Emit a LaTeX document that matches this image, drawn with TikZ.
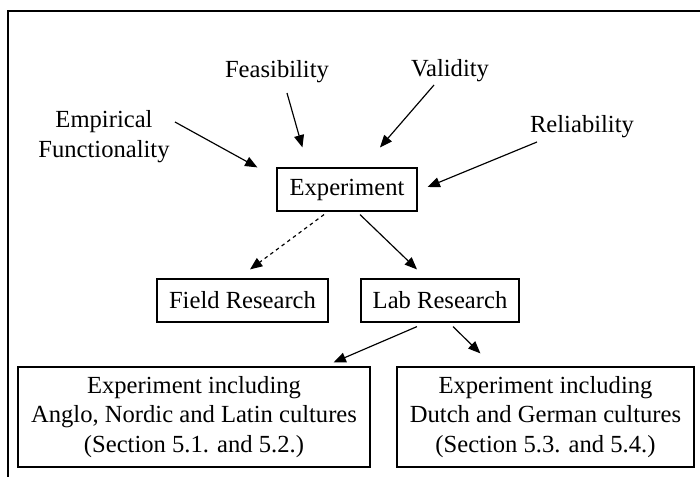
\documentclass[tikz,border=0pt]{standalone}
\usepackage{fontspec}
\setmainfont{Liberation Serif}
\usetikzlibrary{arrows.meta, calc}
\tikzset{
  boxnode/.style={draw, line width=1pt, inner sep=0pt, align=center, font=\fontsize{21}{25.5}\selectfont},
  factor/.style={inner sep=0pt, align=center, font=\fontsize{21}{25.5}\selectfont},
  link/.style={line width=1pt, -{Triangle[length=10.5pt,width=8.5pt]}},
}

\begin{document}
\begin{tikzpicture}[x=0.03cm, y=-0.03cm]
  \useasboundingbox (0,0) rectangle (700,477);
  % Outer frame (cut at right and bottom)
  \draw[line width=1.1pt] (8,477) -- (8,11) -- (700,11);

  % Criteria
  \node[factor] (emp) at (104,137) {Empirical\\Functionality};
  \node[factor] (feas) at (277,72) {Feasibility};
  \node[factor] (valid) at (450,71) {Validity};
  \node[factor] (rel) at (582,127) {Reliability};

  % Method boxes
  \node[boxnode, minimum width=140*0.03cm, minimum height=43*0.03cm] (exp) at (347,189.5) {Experiment};
  \node[boxnode, minimum width=171*0.03cm, minimum height=43*0.03cm] (field) at (242.5,300.5) {Field Research};
  \node[boxnode, minimum width=158*0.03cm, minimum height=43*0.03cm] (lab) at (440,300.5) {Lab Research};
  \node[boxnode, minimum width=352*0.03cm, minimum height=100*0.03cm] (anglo) at (194,417)
    {Experiment including\\Anglo, Nordic and Latin cultures\\(Section 5.1. and 5.2.)};
  \node[boxnode, minimum width=297*0.03cm, minimum height=100*0.03cm] (dutch) at (545.5,417)
    {Experiment including\\Dutch and German cultures\\(Section 5.3. and 5.4.)};

  % Arrows into the experiment
  \draw[link] ($(emp.center)+(71,-15)$) -- ($(exp.north west)+(-19,0)$);
  \draw[link] ($(feas.center)+(10,21)$) -- ($(exp.north west)+(26,-20)$);
  \draw[link] ($(valid.center)+(-16,14)$) -- ($(exp.north)+(33,-20)$);
  \draw[link] ($(rel.center)+(-45,15)$) -- ($(exp.east)+(10,-2.5)$);

  % Arrows down
  \draw[link, dashed] ($(exp.south)+(-23,3)$) -- ($(field.north)+(7.5,-9)$);
  \draw[link] ($(exp.south)+(13,3)$) -- ($(lab.north)+(-23,-9)$);
  \draw[link] ($(lab.south)+(-23,4)$) -- ($(anglo.north east)+(-37,-4)$);
  \draw[link] ($(lab.south)+(13,4)$) -- ($(dutch.north west)+(84,-13)$);
\end{tikzpicture}
\end{document}
